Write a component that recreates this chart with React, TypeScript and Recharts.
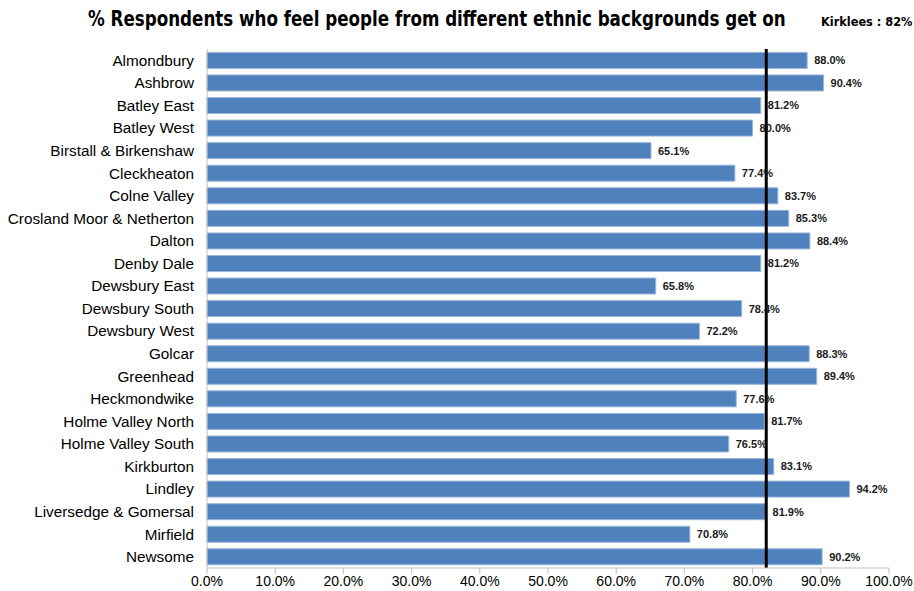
import * as React from 'react';
import { Bar, BarChart, LabelList, ReferenceLine, XAxis, YAxis } from 'recharts';

const wards = [
  'Almondbury',
  'Ashbrow',
  'Batley East',
  'Batley West',
  'Birstall & Birkenshaw',
  'Cleckheaton',
  'Colne Valley',
  'Crosland Moor & Netherton',
  'Dalton',
  'Denby Dale',
  'Dewsbury East',
  'Dewsbury South',
  'Dewsbury West',
  'Golcar',
  'Greenhead',
  'Heckmondwike',
  'Holme Valley North',
  'Holme Valley South',
  'Kirkburton',
  'Lindley',
  'Liversedge & Gomersal',
  'Mirfield',
  'Newsome',
];

const percentages = [
  88.0, 90.4, 81.2, 80.0, 65.1, 77.4, 83.7, 85.3, 88.4, 81.2, 65.8, 78.4, 72.2, 88.3, 89.4, 77.6,
  81.7, 76.5, 83.1, 94.2, 81.9, 70.8, 90.2,
];

const xTicks = [0, 10, 20, 30, 40, 50, 60, 70, 80, 90, 100];
const kirkleesAverage = 82;

const data = wards.map((name, i) => ({ name, value: percentages[i] }));

const FONT = '"Liberation Sans", Arial, sans-serif';
const NARROW = '"DejaVu Sans Condensed", "Liberation Sans", sans-serif';

export default function App() {
  return (
    <div
      style={{
        position: 'absolute',
        left: 0,
        top: 0,
        width: 914,
        height: 591,
        background: '#fff',
        fontFamily: FONT,
      }}
    >
      <div
        style={{
          position: 'absolute',
          left: 88,
          top: 7,
          fontFamily: NARROW,
          fontWeight: 'bold',
          fontSize: 21,
          whiteSpace: 'nowrap',
          color: '#000',
          transform: 'scaleX(0.885)',
          transformOrigin: 'left top',
        }}
      >
        % Respondents who feel people from different ethnic backgrounds get on
      </div>
      <div
        style={{
          position: 'absolute',
          left: 821,
          top: 14,
          fontFamily: NARROW,
          fontWeight: 'bold',
          fontSize: 13,
          whiteSpace: 'nowrap',
          color: '#000',
          transform: 'scaleX(0.97)',
          transformOrigin: 'left top',
        }}
      >
        Kirklees : 82%
      </div>
      <BarChart
        width={914}
        height={591}
        data={data}
        layout="vertical"
        barCategoryGap="15%"
        margin={{ top: 49, right: 25, left: 0, bottom: 0 }}
      >
        <XAxis
          type="number"
          domain={[0, 100]}
          ticks={xTicks}
          tickFormatter={(v: number) => `${v.toFixed(1)}%`}
          tick={{ fill: '#000', fontSize: 14, fontFamily: FONT }}
          axisLine={{ stroke: '#bfbfbf' }}
          tickLine={{ stroke: '#bfbfbf' }}
          height={23}
          interval={0}
        />
        <YAxis
          type="category"
          dataKey="name"
          width={207}
          interval={0}
          tick={{ fill: '#000', fontSize: 15.3, fontFamily: FONT }}
          tickLine={false}
          tickMargin={7}
          axisLine={{ stroke: '#bfbfbf' }}
        />
        <Bar dataKey="value" fill="#4f81bd" stroke="#9cb6da" strokeWidth={1} isAnimationActive={false}>
          <LabelList
            dataKey="value"
            position="right"
            offset={7}
            formatter={(v: number) => `${v.toFixed(1)}%`}
            style={{ fill: '#1a1a1a', fontSize: 11, fontWeight: 'bold', fontFamily: FONT }}
          />
        </Bar>
        <ReferenceLine x={kirkleesAverage} stroke="#000" strokeWidth={3} />
      </BarChart>
    </div>
  );
}
